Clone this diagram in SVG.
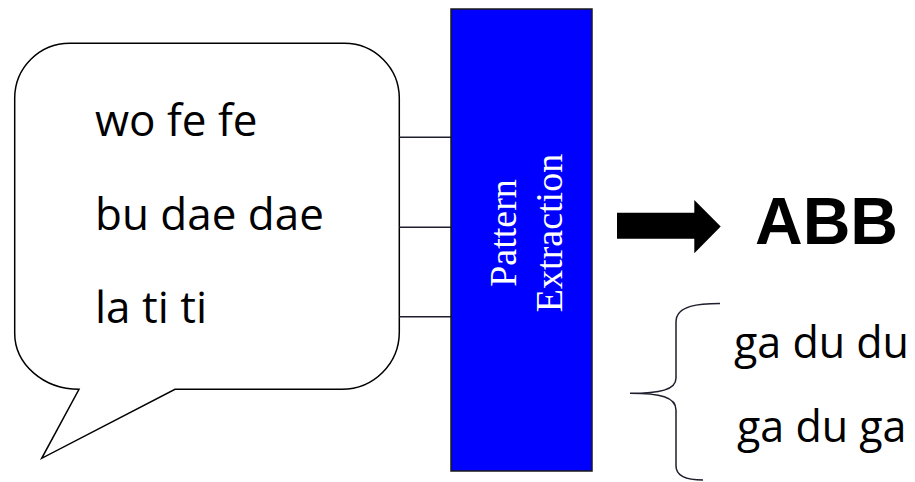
<svg xmlns="http://www.w3.org/2000/svg" width="915" height="482" viewBox="0 0 915 482">
  <style>
    .line { fill: none; stroke: #1e1e2e; stroke-width: 1.5; }
    .outline { fill: #ffffff; stroke: #000000; stroke-width: 1.5; stroke-linejoin: miter; }
    .syll { font-family: "Open Sans", "Liberation Sans", sans-serif; font-size: 44px; fill: #000000; }
    .syll-r { font-family: "Open Sans", "Liberation Sans", sans-serif; font-size: 43px; fill: #000000; }
    .proc { font-family: "Liberation Serif", "Times New Roman", serif; font-size: 38px; fill: #ffffff; text-anchor: middle; }
    .pattern { font-family: "Liberation Sans", Arial, sans-serif; font-weight: bold; font-size: 66px; fill: #000000; }
  </style>

  <!-- speech bubble holding the input strings -->
  <g id="bubble">
    <path class="outline" d="M70,43.3 H344.5 A55,55 0 0 1 399.3,98.3 V332 A57.3,57.3 0 0 1 342,389.3 H175 L41.7,458.3 L79,389.3 A64.3,56 0 0 1 14.7,333.3 V98.3 A55,55 0 0 1 70,43.3 Z"/>
    <text class="syll" x="95" y="136">wo fe fe</text>
    <text class="syll" x="95" y="229.5">bu dae dae</text>
    <text class="syll" x="95" y="323">la ti ti</text>
  </g>

  <!-- links from each string into the extractor -->
  <g id="connectors">
    <line class="line" x1="399.3" y1="137.3" x2="451" y2="137.3"/>
    <line class="line" x1="399.3" y1="227.3" x2="451" y2="227.3"/>
    <line class="line" x1="399.3" y1="316.7" x2="451" y2="316.7"/>
  </g>

  <!-- extractor block -->
  <g id="extractor">
    <rect x="451" y="9" width="141" height="462" fill="#0000ff" stroke="#1a1a1a" stroke-width="1.5"/>
    <text class="proc" transform="translate(516,233) rotate(-90)">Pattern</text>
    <text class="proc" transform="translate(561.5,233) rotate(-90)">Extraction</text>
  </g>

  <!-- block arrow to the result -->
  <g id="result-arrow">
    <polygon points="617,212.7 694.3,212.7 694.3,200 720.7,226.5 694.3,253.3 694.3,238.7 617,238.7" fill="#000000"/>
  </g>

  <!-- extracted pattern -->
  <g id="pattern">
    <text class="pattern" x="755" y="243.5">ABB</text>
  </g>

  <!-- test strings grouped by a brace -->
  <g id="tests">
    <path class="line" stroke="#000000" d="M720,303.5 C700,303.5 676,305 676,322 V378 C676,390 660,393.3 630,393.3 C660,393.3 676,397 676,410 V466 C676,478 690,480 703,480"/>
    <text class="syll-r" x="734" y="358.3">ga du du</text>
    <text class="syll-r" x="737" y="441.7">ga du ga</text>
  </g>
</svg>
